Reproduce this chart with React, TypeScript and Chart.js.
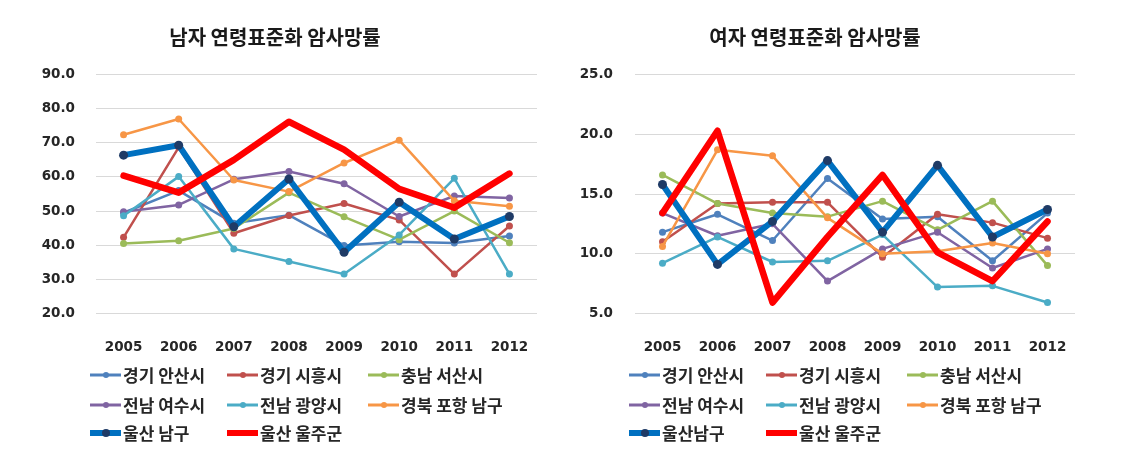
import React, { useEffect, useRef } from "react";
import { Chart, registerables } from "chart.js";

Chart.register(...registerables);

// ---------- data ----------
const years = ["2005", "2006", "2007", "2008", "2009", "2010", "2011", "2012"];

const maleTitle = "남자 연령표준화 암사망률";
const femaleTitle = "여자 연령표준화 암사망률";

const maleLabels = ["경기 안산시", "경기 시흥시", "충남 서산시", "전남 여수시", "전남 광양시", "경북 포항 남구", "울산 남구", "울산 울주군"];
const femaleLabels = ["경기 안산시", "경기 시흥시", "충남 서산시", "전남 여수시", "전남 광양시", "경북 포항 남구", "울산남구", "울산 울주군"];

const ansanMale = [49.5, 56.0, 46.4, 48.8, 39.9, 41.0, 40.6, 42.7];
const siheungMale = [42.3, 68.7, 43.5, 48.7, 52.2, 47.4, 31.5, 45.6];
const seosanMale = [40.5, 41.3, 44.9, 55.4, 48.3, 41.6, 50.0, 40.7];
const yeosuMale = [49.8, 51.8, 59.3, 61.6, 58.0, 48.4, 54.4, 53.8];
const gwangyangMale = [48.6, 60.1, 38.9, 35.2, 31.5, 43.0, 59.6, 31.5];
const pohangMale = [72.4, 77.0, 59.1, 55.7, 64.1, 70.8, 53.0, 51.4];
const ulsanNamguMale = [66.4, 69.3, 45.4, 59.4, 37.9, 52.6, 41.8, 48.4];
const uljuMale = [60.4, 55.4, 65.0, 76.2, 68.0, 56.5, 51.0, 61.0];

const ansanFemale = [11.8, 13.3, 11.1, 16.3, 12.9, 13.1, 9.4, 13.4];
const siheungFemale = [11.0, 14.2, 14.3, 14.3, 9.7, 13.3, 12.6, 11.3];
const seosanFemale = [16.6, 14.2, 13.4, 13.1, 14.4, 12.0, 14.4, 9.0];
const yeosuFemale = [13.4, 11.5, 12.5, 7.7, 10.4, 11.8, 8.8, 10.4];
const gwangyangFemale = [9.2, 11.4, 9.3, 9.4, 11.6, 7.2, 7.3, 5.9];
const pohangFemale = [10.6, 18.7, 18.2, 13.0, 10.0, 10.2, 10.9, 10.0];
const ulsanNamguFemale = [15.8, 9.1, 12.7, 17.8, 11.8, 17.4, 11.4, 13.7];
const uljuFemale = [13.4, 20.3, 5.9, 11.4, 16.6, 10.1, 7.7, 12.7];

const maleSeries = [ansanMale, siheungMale, seosanMale, yeosuMale, gwangyangMale, pohangMale, ulsanNamguMale, uljuMale];
const femaleSeries = [ansanFemale, siheungFemale, seosanFemale, yeosuFemale, gwangyangFemale, pohangFemale, ulsanNamguFemale, uljuFemale];

const maleTicks = { min: 20, max: 90, step: 10 };
const femaleTicks = { min: 5, max: 25, step: 5 };

// ---------- styles ----------
const lineColors = ["#4F81BD", "#C0504D", "#9BBB59", "#8064A2", "#4BACC6", "#F79646", "#0070C0", "#FF0000"];
const pointColors = ["#4F81BD", "#C0504D", "#9BBB59", "#8064A2", "#4BACC6", "#F79646", "#1F3B66", "#FF0000"];
const lineWidths = [2.5, 2.5, 2.5, 2.5, 2.5, 2.5, 6, 6.5];
const pointRadii = [3.5, 3.5, 3.5, 3.5, 3.5, 3.5, 4.5, 0];

const tickFont = { family: "'DejaVu Sans', sans-serif", size: 13.5, weight: "bold" as const };
const krFont = "'Noto Sans CJK KR', 'Noto Sans', sans-serif";

function makeLegendPlugin(labels: string[]) {
  const colOffsets = [-6, 131, 272];
  const rowYs = [375, 405, 433];
  return {
    id: "gridLegend",
    afterDraw(chart: any) {
      const ctx = chart.ctx as CanvasRenderingContext2D;
      const left = chart.chartArea.left;
      ctx.save();
      labels.forEach((label, i) => {
        const col = i % 3;
        const row = Math.floor(i / 3);
        const x0 = left + colOffsets[col];
        const y = rowYs[row];
        ctx.strokeStyle = lineColors[i];
        ctx.lineWidth = lineWidths[i] >= 6 ? 6 : 3;
        ctx.lineCap = "butt";
        ctx.beginPath();
        ctx.moveTo(x0, y);
        ctx.lineTo(x0 + 31, y);
        ctx.stroke();
        if (pointRadii[i] > 0) {
          ctx.fillStyle = pointColors[i];
          ctx.beginPath();
          ctx.arc(x0 + 16, y, pointRadii[i] - 0.5, 0, Math.PI * 2);
          ctx.fill();
        }
        ctx.fillStyle = "#262626";
        ctx.font = `bold 17px ${krFont}`;
        ctx.textBaseline = "middle";
        ctx.textAlign = "left";
        ctx.fillText(label, x0 + 33, y + 1);
      });
      ctx.restore();
    },
  };
}

type PanelProps = {
  title: string;
  labels: string[];
  series: number[][];
  ticks: { min: number; max: number; step: number };
  width: number;
  padLeft: number;
  padRight: number;
  yWidth: number;
  yPad: number;
};

function Panel(props: PanelProps) {
  const ref = useRef<HTMLCanvasElement>(null);
  useEffect(() => {
    if (!ref.current) return;
    const n = props.series.length;
    const datasets = props.series.map((values, i) => ({
      label: props.labels[i],
      data: values,
      borderColor: lineColors[i],
      backgroundColor: pointColors[i],
      pointBackgroundColor: pointColors[i],
      pointBorderColor: pointColors[i],
      pointBorderWidth: 0,
      borderWidth: lineWidths[i],
      pointRadius: pointRadii[i],
      tension: 0,
      fill: false,
      order: n - 1 - i,
      borderJoinStyle: "round" as const,
      borderCapStyle: "round" as const,
    }));
    const chart = new Chart(ref.current, {
      type: "line",
      data: { labels: years, datasets },
      options: {
        animation: false,
        responsive: false,
        layout: { padding: { left: props.padLeft, right: props.padRight, top: 0, bottom: 0 } },
        plugins: {
          legend: { display: false },
          tooltip: { enabled: false },
          title: {
            display: true,
            text: props.title,
            color: "#1a1a1a",
            font: { family: krFont, size: 20, weight: "bold", lineHeight: 1.2 },
            padding: { top: 25, bottom: 25.7 },
          },
        },
        scales: {
          x: {
            offset: true,
            grid: { display: false },
            border: { display: false },
            ticks: { color: "#262626", font: tickFont, padding: 18, maxRotation: 0 },
            afterFit: (scale: any) => {
              scale.height = 463 - 313.3;
            },
          },
          y: {
            min: props.ticks.min,
            max: props.ticks.max,
            grid: { color: "#d9d9d9", lineWidth: 1, drawTicks: false },
            border: { display: false },
            ticks: {
              stepSize: props.ticks.step,
              color: "#262626",
              font: tickFont,
              padding: props.yPad,
              callback: (v: any) => Number(v).toFixed(1),
            },
            afterFit: (scale: any) => {
              scale.width = props.yWidth;
            },
          },
        },
      },
      plugins: [makeLegendPlugin(props.labels)],
    });
    return () => chart.destroy();
  }, []);
  return <canvas ref={ref} width={props.width} height={463} style={{ display: "block" }} />;
}

export default function App() {
  return (
    <div style={{ position: "fixed", left: 0, top: 0, width: 1122, height: 463, background: "#ffffff", overflow: "hidden" }}>
      <div style={{ position: "absolute", left: 0, top: 0 }}>
        <Panel title={maleTitle} labels={maleLabels} series={maleSeries} ticks={maleTicks} width={555} padLeft={13} padRight={18} yWidth={83} yPad={21} />
      </div>
      <div style={{ position: "absolute", left: 555, top: 0 }}>
        <Panel title={femaleTitle} labels={femaleLabels} series={femaleSeries} ticks={femaleTicks} width={567} padLeft={0} padRight={47} yWidth={80} yPad={22} />
      </div>
    </div>
  );
}
